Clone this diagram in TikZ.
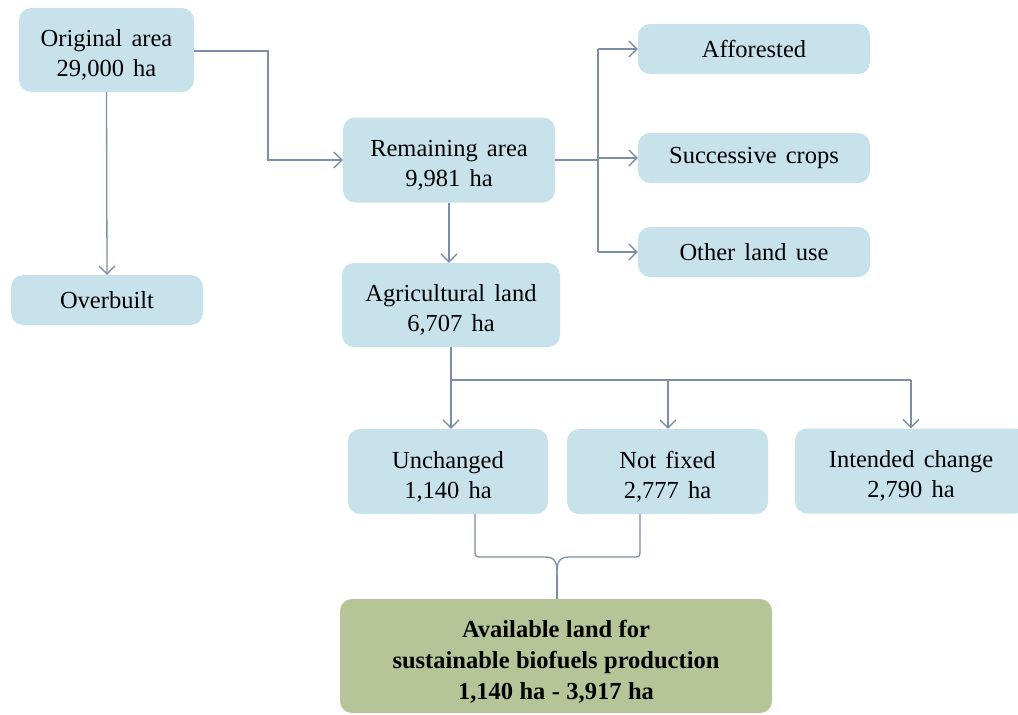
\documentclass[tikz,border=0pt]{standalone}
\usepackage{fontspec}
\setmainfont{Liberation Serif}[WordSpace=1.5]
\newfontfamily\boldserif{Liberation Serif}[WordSpace=1.05]
\usetikzlibrary{arrows.meta}
\definecolor{boxblue}{RGB}{200,226,236}
\definecolor{boxgreen}{RGB}{181,197,151}
\definecolor{linec}{RGB}{125,143,168}
\begin{document}
\begin{tikzpicture}[x=1pt,y=-1pt,
 box/.style={fill=boxblue, rounded corners=12pt, align=center, inner sep=0pt, font=\fontsize{24.5}{30}\selectfont, text=black},
 twoline/.style={box, text height=57pt},
 gbox/.style={box, fill=boxgreen, text height=91pt, font=\fontsize{24.5}{31}\selectfont\boldserif\bfseries},
 conn/.style={draw=linec, line width=1.3pt},
 arr/.style={conn, -{Straight Barb[length=8pt,width=16pt,line width=1.3pt]}}]
\useasboundingbox (0,0) rectangle (1018,715);
\clip (0,0) rectangle (1018,715);
\node[twoline, minimum width=175pt, minimum height=84pt] (orig) at (106.5,50) {Original area\\29,000 ha};
\node[box, minimum width=192pt, minimum height=50pt] (over) at (107,300) {Overbuilt};
\node[twoline, minimum width=212pt, minimum height=85pt] (rem) at (449,160) {Remaining area\\9,981 ha};
\node[twoline, minimum width=218pt, minimum height=84pt] (agri) at (451,305) {Agricultural land\\6,707 ha};
\node[box, minimum width=232pt, minimum height=50pt] (aff) at (754,49) {Afforested};
\node[box, minimum width=232pt, minimum height=50pt] (succ) at (754,158) {Successive crops};
\node[box, minimum width=232pt, minimum height=50pt] (other) at (754,252) {Other land use};
\node[twoline, minimum width=200pt, minimum height=85pt] (unch) at (448,471.5) {Unchanged\\1,140 ha};
\node[twoline, minimum width=201pt, minimum height=85pt] (notf) at (667.5,471.5) {Not fixed\\2,777 ha};
\node[twoline, minimum width=232pt, minimum height=85pt] (intc) at (911,471) {Intended change\\2,790 ha};
\node[gbox, minimum width=432pt, minimum height=114pt] (avail) at (556,656) {Available land for\\sustainable biofuels production\\1,140 ha - 3,917 ha};
% connectors
\draw[arr] (orig.south) -- (over.north);
\coordinate (j1) at (268,51);
\draw[arr] (orig.east |- j1) -- (j1) |- (rem.west);
\coordinate (j2) at (598,160);
\draw[conn] (rem.east) -- (j2);
\draw[arr] (598,0 |- aff.west) -- (aff.west);
\draw[arr] (598,0 |- other.west) -- (other.west);
\draw[conn] (598,0 |- aff.west) -- (598,0 |- other.west);
\draw[arr] (598,0 |- succ.west) -- (succ.west);
\draw[arr] (449,0 |- rem.south) -- (449,0 |- agri.north);
\coordinate (j3) at (451,380);
\coordinate (j4) at (668,380);
\coordinate (j5) at (911,380);
\draw[conn] (agri.south) -- (j3) -- (j5);
\draw[arr] (j3) -- (451,0 |- unch.north);
\draw[arr] (j4) -- (668,0 |- notf.north);
\draw[arr] (j5) -- (intc.north);
% brace
\coordinate (bt) at (557,575);
\draw[conn] (475,0 |- unch.south) -- (475,549) .. controls (475,557) .. (483,557) -- (545,557) .. controls (557,557) and (557,565) .. (bt);
\draw[conn] (640,0 |- notf.south) -- (640,549) .. controls (640,557) .. (632,557) -- (569,557) .. controls (557,557) and (557,565) .. (bt);
\draw[conn] (bt) -- (557,0 |- avail.north);
\end{tikzpicture}
\end{document}
